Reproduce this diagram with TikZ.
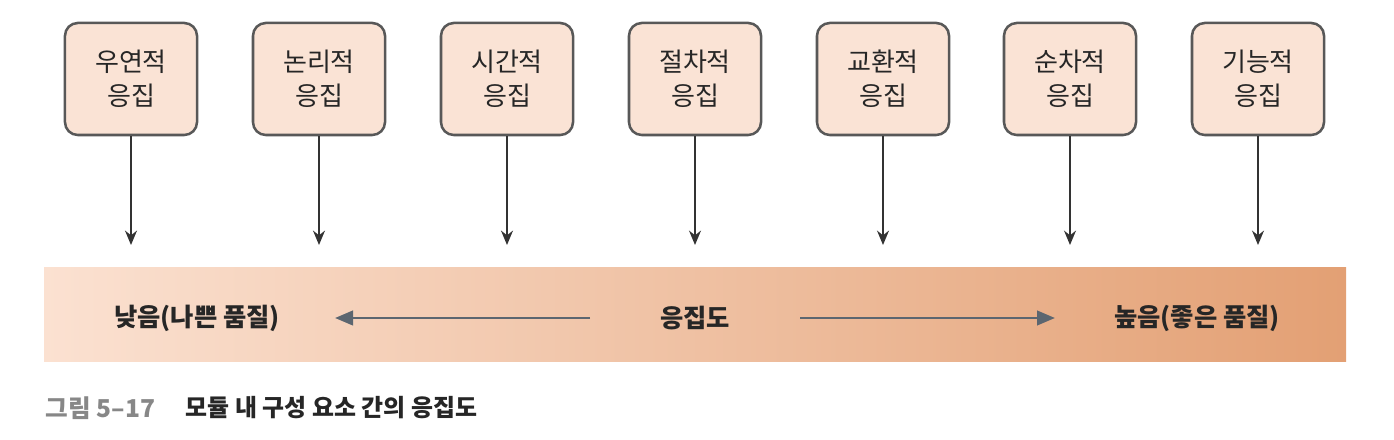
\documentclass[tikz,border=0pt]{standalone}
\usepackage{fontspec}
\setmainfont{Noto Sans CJK KR}
\usetikzlibrary{arrows.meta}
\definecolor{boxfill}{RGB}{250,227,213}
\definecolor{boxline}{RGB}{88,88,88}
\definecolor{barleft}{RGB}{251,225,209}
\definecolor{barmid}{RGB}{244,201,173}
\definecolor{barright}{RGB}{227,160,116}
\definecolor{arrowgray}{RGB}{92,102,112}
\definecolor{capgray}{RGB}{135,135,135}

\begin{document}
\begin{tikzpicture}[x=0.025cm,y=0.025cm,
  box/.style={draw=boxline,fill=boxfill,line width=1.8pt,rounded corners=0.32cm,
    minimum width=3.3cm,minimum height=2.8cm,align=center,text=black!85,
    font=\fontsize{18.5}{24}\selectfont},
  down/.style={-{Stealth[length=3.6mm,width=3mm]},line width=1pt,black!80},
  side/.style={-{Triangle[length=4.5mm,width=3.6mm]},line width=2pt,arrowgray},
  bar/.style={font=\bfseries\fontsize{18}{22}\selectfont,text=black!85}]
  \useasboundingbox (0,0) rectangle (1394,440);
  % boxes
  \node[box] (b1) at (131,361) {우연적\\응집};
  \node[box] (b2) at (319,361) {논리적\\응집};
  \node[box] (b3) at (507,361) {시간적\\응집};
  \node[box] (b4) at (695,361) {절차적\\응집};
  \node[box] (b5) at (883,361) {교환적\\응집};
  \node[box] (b6) at (1070,361) {순차적\\응집};
  \node[box] (b7) at (1258,361) {기능적\\응집};
  \coordinate (tips) at (0,195);
  \foreach \n in {1,...,7}
    \draw[down] (b\n.south) -- (b\n.south |- tips);
  % bar
  \shade[left color=barleft,middle color=barmid,right color=barright] (44,78) rectangle (1346,172);
  \node[bar] (low) at (197,122) {낮음(나쁜 품질)};
  \node[bar] (mid) at (695,122) {응집도};
  \node[bar] (high) at (1197,122) {높음(좋은 품질)};
  \coordinate (lowstart) at (590,122); \coordinate (lowtip) at (335,122);
  \coordinate (highstart) at (800,122); \coordinate (hightip) at (1055,122);
  \draw[side] (lowstart) -- (lowtip);
  \draw[side] (highstart) -- (hightip);
  % caption
  \node[anchor=west,text=capgray,font=\bfseries\fontsize{17.5}{20}\selectfont] (fig) at (41,32) {그림 5–17};
  \node[anchor=west,text=black!85,font=\bfseries\fontsize{17}{20}\selectfont] (title) at (181,32) {모듈 내 구성 요소 간의 응집도};
\end{tikzpicture}
\end{document}
